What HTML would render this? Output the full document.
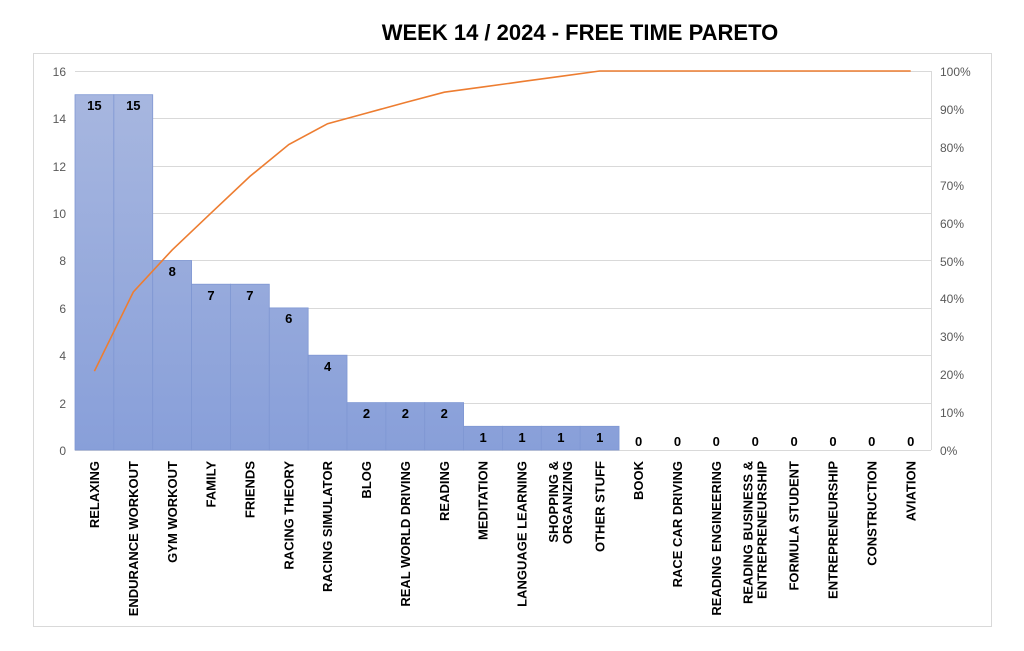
<!DOCTYPE html>
<html><head><meta charset="utf-8"><style>
body{margin:0;background:#fff}
svg{display:block;font-family:"Liberation Sans",sans-serif}
.ax{fill:#595959;font-size:12px}
.dl{font-weight:bold;font-size:13px;fill:#000;text-anchor:middle}
.cl{font-weight:bold;font-size:13px;fill:#000;text-anchor:end}
</style></head><body>
<svg width="1024" height="651" viewBox="0 0 1024 651">
<defs><linearGradient id="g" gradientUnits="userSpaceOnUse" x1="0" y1="71" x2="0" y2="450"><stop offset="0" stop-color="#a9b8e0"/><stop offset="1" stop-color="#889fd9"/></linearGradient></defs>
<rect x="33.5" y="53.5" width="958" height="573" fill="#fff" stroke="#d9d9d9"/>
<text x="580" y="40" text-anchor="middle" font-weight="bold" font-size="22" fill="#000">WEEK 14 / 2024  - FREE TIME PARETO</text>
<g stroke="#d9d9d9" stroke-width="1">
<line x1="75" x2="931" y1="71.5" y2="71.5"/><line x1="75" x2="931" y1="118.5" y2="118.5"/><line x1="75" x2="931" y1="166.5" y2="166.5"/><line x1="75" x2="931" y1="213.5" y2="213.5"/><line x1="75" x2="931" y1="260.5" y2="260.5"/><line x1="75" x2="931" y1="308.5" y2="308.5"/><line x1="75" x2="931" y1="355.5" y2="355.5"/><line x1="75" x2="931" y1="403.5" y2="403.5"/><line x1="75" x2="931" y1="450.5" y2="450.5"/>
<line x1="931.5" x2="931.5" y1="71" y2="450"/>
</g>
<g class="ax" text-anchor="end">
<text x="66" y="76">16</text><text x="66" y="123">14</text><text x="66" y="171">12</text><text x="66" y="218">10</text><text x="66" y="265">8</text><text x="66" y="313">6</text><text x="66" y="360">4</text><text x="66" y="408">2</text><text x="66" y="455">0</text>
</g>
<g class="ax">
<text x="940" y="76">100%</text><text x="940" y="114">90%</text><text x="940" y="152">80%</text><text x="940" y="190">70%</text><text x="940" y="228">60%</text><text x="940" y="266">50%</text><text x="940" y="303">40%</text><text x="940" y="341">30%</text><text x="940" y="379">20%</text><text x="940" y="417">10%</text><text x="940" y="455">0%</text>
</g>
<g fill="url(#g)" stroke="#7f97d3" stroke-width="0.8">
<rect x="75" y="94.7" width="38.86" height="355.3"/>
<rect x="113.86" y="94.7" width="38.86" height="355.3"/>
<rect x="152.72" y="260.5" width="38.86" height="189.5"/>
<rect x="191.58" y="284.2" width="38.86" height="165.8"/>
<rect x="230.44" y="284.2" width="38.86" height="165.8"/>
<rect x="269.3" y="307.9" width="38.86" height="142.1"/>
<rect x="308.16" y="355.2" width="38.86" height="94.8"/>
<rect x="347.02" y="402.6" width="38.86" height="47.4"/>
<rect x="385.88" y="402.6" width="38.86" height="47.4"/>
<rect x="424.74" y="402.6" width="38.86" height="47.4"/>
<rect x="463.6" y="426.3" width="38.86" height="23.7"/>
<rect x="502.46" y="426.3" width="38.86" height="23.7"/>
<rect x="541.32" y="426.3" width="38.86" height="23.7"/>
<rect x="580.18" y="426.3" width="38.86" height="23.7"/>
</g>
<polyline fill="none" stroke="#ed7d31" stroke-width="1.6" points="94.4,371.2 133.3,292 172.2,249.9 211,213.1 249.9,176.4 288.8,144.5 327.6,123.7 366.5,113.1 405.4,102.5 444.3,92.2 483.1,86.9 522,81.6 560.9,76.3 599.7,71 638.6,71 677.5,71 716.3,71 755.2,71 794.1,71 833,71 871.8,71 910.7,71"/>
<g class="dl">
<text x="94.4" y="110">15</text><text x="133.3" y="110">15</text><text x="172.2" y="276">8</text><text x="211" y="300">7</text><text x="249.9" y="300">7</text><text x="288.8" y="323">6</text><text x="327.6" y="371">4</text><text x="366.5" y="418">2</text><text x="405.4" y="418">2</text><text x="444.3" y="418">2</text><text x="483.1" y="442">1</text><text x="522" y="442">1</text><text x="560.9" y="442">1</text><text x="599.7" y="442">1</text>
<text x="638.6" y="446">0</text><text x="677.5" y="446">0</text><text x="716.3" y="446">0</text><text x="755.2" y="446">0</text><text x="794.1" y="446">0</text><text x="833" y="446">0</text><text x="871.8" y="446">0</text><text x="910.7" y="446">0</text>
</g>
<g class="cl">
<text transform="translate(99,461) rotate(-90)">RELAXING</text>
<text transform="translate(137.9,461) rotate(-90)">ENDURANCE WORKOUT</text>
<text transform="translate(176.8,461) rotate(-90)">GYM WORKOUT</text>
<text transform="translate(215.6,461) rotate(-90)">FAMILY</text>
<text transform="translate(254.5,461) rotate(-90)">FRIENDS</text>
<text transform="translate(293.4,461) rotate(-90)">RACING THEORY</text>
<text transform="translate(332.2,461) rotate(-90)">RACING SIMULATOR</text>
<text transform="translate(371.1,461) rotate(-90)">BLOG</text>
<text transform="translate(410,461) rotate(-90)">REAL WORLD DRIVING</text>
<text transform="translate(448.9,461) rotate(-90)">READING</text>
<text transform="translate(487.7,461) rotate(-90)">MEDITATION</text>
<text transform="translate(526.6,461) rotate(-90)">LANGUAGE LEARNING</text>
<text transform="translate(558,461) rotate(-90)">SHOPPING &amp;</text>
<text transform="translate(572,461) rotate(-90)">ORGANIZING</text>
<text transform="translate(604.3,461) rotate(-90)">OTHER STUFF</text>
<text transform="translate(643.2,461) rotate(-90)">BOOK</text>
<text transform="translate(682.1,461) rotate(-90)">RACE CAR DRIVING</text>
<text transform="translate(720.9,461) rotate(-90)">READING ENGINEERING</text>
<text transform="translate(752.3,461) rotate(-90)">READING BUSINESS &amp;</text>
<text transform="translate(766.3,461) rotate(-90)">ENTREPRENEURSHIP</text>
<text transform="translate(798.7,461) rotate(-90)">FORMULA STUDENT</text>
<text transform="translate(837.6,461) rotate(-90)">ENTREPRENEURSHIP</text>
<text transform="translate(876.4,461) rotate(-90)">CONSTRUCTION</text>
<text transform="translate(915.3,461) rotate(-90)">AVIATION</text>
</g>
</svg>
</body></html>
